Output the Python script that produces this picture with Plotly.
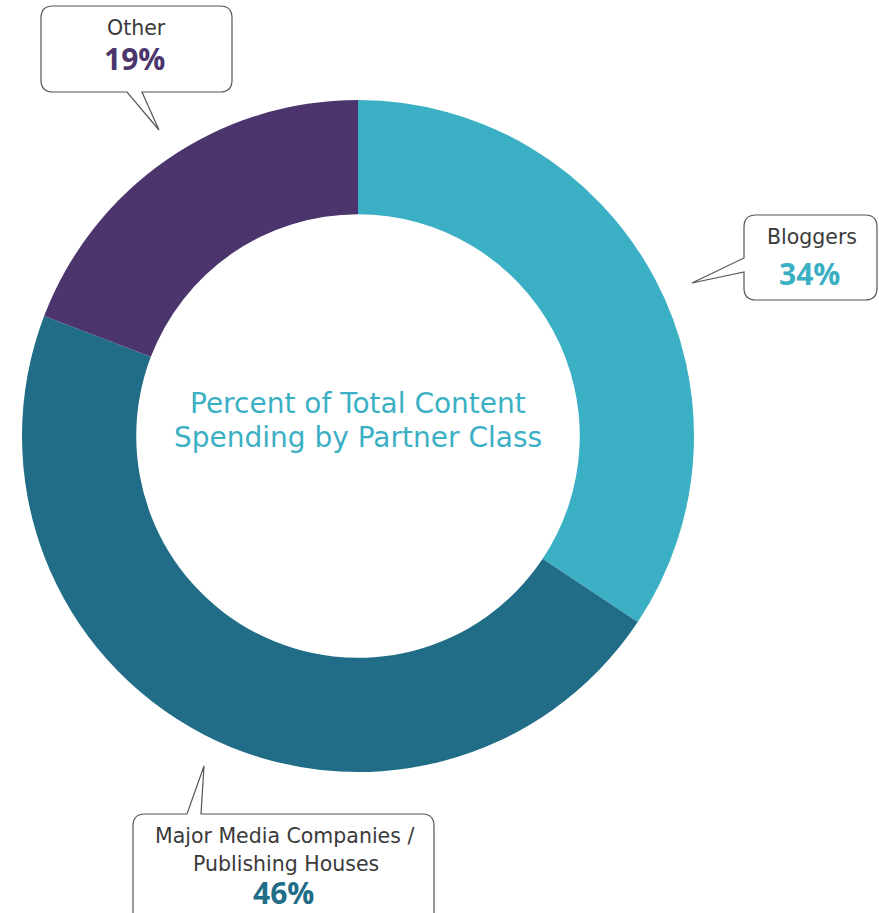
import plotly.graph_objects as go

categories = ["Bloggers", "Major Media Companies / Publishing Houses", "Other"]
values = [34, 46, 19]
colors = ["#3BB0C4", "#216D87", "#4B356C"]
pct_labels = ["34%", "46%", "19%"]

W, H = 879, 913


def px(x):
    return x / W


def py(y):
    return 1 - y / H


cx, cy, R = 358, 436, 336

fig = go.Figure()
fig.add_trace(go.Pie(
    labels=categories,
    values=values,
    marker=dict(colors=colors, line=dict(width=0)),
    hole=0.66,
    sort=False,
    direction="clockwise",
    rotation=0,
    textinfo="none",
    hoverinfo="label+percent",
    showlegend=False,
    domain=dict(x=[px(cx - R), px(cx + R)], y=[py(cy + R), py(cy - R)]),
))


def bubble(x0, y0, x1, y1, tail, r=12):
    """Rounded box with a speech tail. tail = (side, a, b, tipx, tipy)."""
    side, a, b, tx, ty = tail
    P = lambda x, y: f"{px(x):.5f},{py(y):.5f}"
    d = f"M {P(x0 + r, y0)} "
    if side == "top":
        d += f"L {P(a, y0)} L {P(tx, ty)} L {P(b, y0)} "
    d += f"L {P(x1 - r, y0)} Q {P(x1, y0)} {P(x1, y0 + r)} "
    d += f"L {P(x1, y1 - r)} Q {P(x1, y1)} {P(x1 - r, y1)} "
    if side == "bottom":
        d += f"L {P(b, y1)} L {P(tx, ty)} L {P(a, y1)} "
    d += f"L {P(x0 + r, y1)} Q {P(x0, y1)} {P(x0, y1 - r)} "
    if side == "left":
        d += f"L {P(x0, b)} L {P(tx, ty)} L {P(x0, a)} "
    d += f"L {P(x0, y0 + r)} Q {P(x0, y0)} {P(x0 + r, y0)} Z"
    return dict(type="path", path=d, xref="paper", yref="paper",
                fillcolor="white", line=dict(color="#555555", width=1.2))


shapes = [
    bubble(41, 6, 232, 92, ("bottom", 127, 142, 159, 130)),
    bubble(744, 215, 877, 300, ("left", 258, 272, 692, 283)),
    bubble(133, 814, 434, 940, ("top", 187, 201, 204, 766)),
]

label_font = "DejaVu Sans, sans-serif"
pct_font = "Open Sans, sans-serif"
dark = "#3a3a3a"
annotations = [
    dict(x=px(136), y=py(27.5), text="Other", font=dict(family=label_font, size=20.5, color=dark)),
    dict(x=px(134), y=py(58.5), text="<b>" + pct_labels[2] + "</b>", font=dict(family=pct_font, size=30, color=colors[2])),
    dict(x=px(812), y=py(237.5), text="Bloggers", font=dict(family=label_font, size=20.5, color=dark)),
    dict(x=px(809), y=py(273.5), text="<b>" + pct_labels[0] + "</b>", font=dict(family=pct_font, size=30, color=colors[0])),
    dict(x=px(284), y=py(836), text="Major Media Companies /", font=dict(family=label_font, size=20.5, color=dark)),
    dict(x=px(286), y=py(864), text="Publishing Houses", font=dict(family=label_font, size=20.5, color=dark)),
    dict(x=px(283), y=py(892.5), text="<b>" + pct_labels[1] + "</b>", font=dict(family=pct_font, size=30, color=colors[1])),
    dict(x=px(358), y=py(403), text="Percent of Total Content", font=dict(family=label_font, size=28, color=colors[0])),
    dict(x=px(358), y=py(437), text="Spending by Partner Class", font=dict(family=label_font, size=28, color=colors[0])),
]
for a in annotations:
    a.update(xref="paper", yref="paper", showarrow=False, xanchor="center", yanchor="middle")

fig.update_layout(
    width=W, height=H,
    margin=dict(l=0, r=0, t=0, b=0),
    paper_bgcolor="white",
    plot_bgcolor="white",
    font=dict(family=label_font),
    shapes=shapes,
    annotations=annotations,
)

fig.write_html("out.html", config={"displayModeBar": False},
               post_script="document.body.style.margin='0';")
